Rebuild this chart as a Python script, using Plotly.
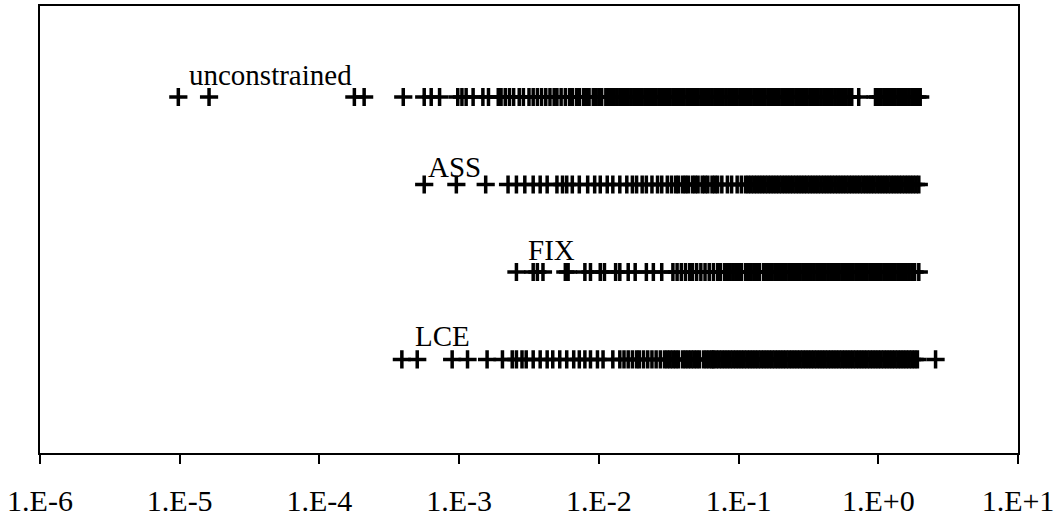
import plotly.graph_objects as go

# Values, stored as log10 of the x value
unconstrained_log = [
    -5.01, -4.79, -3.75, -3.68, -3.40, -3.25, -3.20, -3.14,
    -3.01, -2.98, -2.95, -2.90, -2.83, -2.79, -2.72, -2.70, -2.67, -2.64,
    -2.61, -2.57, -2.54, -2.50, -2.47, -2.44, -2.41, -2.38, -2.35, -2.32,
    -2.30, -2.27, -2.24, -2.21, -2.19, -2.16, -2.14, -2.11, -2.09, -2.07,
    -2.04, -2.02, -2.00, -1.98, -1.95, -1.93, -1.91, -1.89, -1.87, -1.85,
    -1.83, -1.81, -1.79, -1.77, -1.75, -1.73, -1.71, -1.69, -1.67, -1.65,
    -1.63, -1.61, -1.59, -1.57, -1.55, -1.53, -1.51, -1.49, -1.47, -1.45,
    -1.43, -1.41, -1.39, -1.37, -1.35, -1.33, -1.31, -1.29, -1.27, -1.25,
    -1.23, -1.21, -1.19, -1.17, -1.15, -1.13, -1.11, -1.09, -1.07, -1.05,
    -1.03, -1.01, -0.99, -0.97, -0.95, -0.93, -0.91, -0.89, -0.87, -0.85,
    -0.83, -0.81, -0.79, -0.77, -0.75, -0.73, -0.71, -0.69, -0.67, -0.65,
    -0.63, -0.61, -0.59, -0.57, -0.55, -0.53, -0.51, -0.49, -0.47, -0.45,
    -0.43, -0.41, -0.39, -0.37, -0.35, -0.33, -0.31, -0.29, -0.27, -0.25,
    -0.23, -0.21, -0.19, -0.14,
    -0.02, 0.00, 0.02, 0.04, 0.06, 0.08, 0.10, 0.12, 0.14, 0.16,
    0.18, 0.20, 0.22, 0.24, 0.26, 0.28, 0.30,
]

ass_log = [
    -3.25, -3.02, -2.81, -2.65, -2.59, -2.53, -2.47, -2.42, -2.37, -2.30,
    -2.26, -2.23, -2.19, -2.14, -2.08, -2.03, -1.99, -1.94, -1.90, -1.85,
    -1.80, -1.76, -1.73, -1.69, -1.66, -1.62, -1.58, -1.55, -1.51, -1.48,
    -1.45, -1.43, -1.40, -1.38, -1.36, -1.33, -1.31, -1.29, -1.26, -1.24,
    -1.22, -1.19, -1.17, -1.15, -1.12, -1.08, -1.05, -1.01, -0.98,
    -0.95, -0.93, -0.91, -0.89, -0.87, -0.85, -0.83, -0.81, -0.79, -0.77,
    -0.75, -0.73, -0.71, -0.69, -0.67, -0.65, -0.63, -0.61, -0.59, -0.57,
    -0.55, -0.53, -0.51, -0.49, -0.47, -0.45, -0.43, -0.41, -0.39, -0.37,
    -0.35, -0.33, -0.31, -0.29, -0.27, -0.25, -0.23, -0.21, -0.19, -0.17,
    -0.15, -0.13, -0.11, -0.09, -0.07, -0.05, -0.03, -0.01, 0.01, 0.03,
    0.05, 0.07, 0.09, 0.11, 0.13, 0.15, 0.17, 0.19, 0.21, 0.23,
    0.25, 0.27, 0.29,
]

fix_log = [
    -2.59, -2.47, -2.44, -2.40, -2.24, -2.22, -2.10, -2.06, -1.99, -1.96,
    -1.88, -1.85, -1.79, -1.74, -1.66, -1.61, -1.55,
    -1.47, -1.44, -1.41, -1.38, -1.35, -1.33, -1.30, -1.27, -1.24, -1.21,
    -1.18, -1.15, -1.13, -1.10, -1.08, -1.06, -1.04, -1.02, -1.00, -0.98,
    -0.95, -0.93, -0.91, -0.89, -0.87, -0.85, -0.82, -0.80, -0.78, -0.76,
    -0.74, -0.72,
    -0.70, -0.68, -0.66, -0.64, -0.62, -0.60, -0.58, -0.56, -0.54, -0.52,
    -0.50, -0.48, -0.46, -0.44, -0.42, -0.40, -0.38, -0.36, -0.34, -0.32,
    -0.30, -0.28, -0.26, -0.24, -0.22, -0.20, -0.18, -0.16, -0.14, -0.12,
    -0.10, -0.08, -0.06, -0.04, -0.02, 0.00, 0.02, 0.04, 0.06, 0.08,
    0.10, 0.12, 0.14, 0.16, 0.18, 0.20, 0.22, 0.24, 0.26, 0.29,
]

lce_log = [
    -3.41, -3.30, -3.05, -2.94, -2.80, -2.69, -2.62, -2.59, -2.55, -2.52,
    -2.47, -2.42, -2.37, -2.33, -2.28, -2.23, -2.18, -2.14, -2.10, -2.06,
    -2.01, -1.97, -1.90,
    -1.85, -1.82, -1.79, -1.76, -1.73, -1.71, -1.68, -1.65, -1.62, -1.59,
    -1.56, -1.53,
    -1.51, -1.49, -1.47, -1.45, -1.43, -1.40, -1.38, -1.36, -1.34, -1.32,
    -1.30, -1.28, -1.25, -1.23, -1.21, -1.19,
    -1.18, -1.16, -1.14, -1.12, -1.10, -1.08, -1.06, -1.04, -1.02, -1.00,
    -0.98, -0.96, -0.94, -0.92, -0.90, -0.88, -0.86, -0.84, -0.82, -0.80,
    -0.78, -0.76, -0.74, -0.72, -0.70, -0.68, -0.66, -0.64, -0.62, -0.60,
    -0.58, -0.56, -0.54, -0.52, -0.50, -0.48, -0.46, -0.44, -0.42, -0.40,
    -0.38, -0.36, -0.34, -0.32, -0.30, -0.28, -0.26, -0.24, -0.22, -0.20,
    -0.18, -0.16, -0.14, -0.12, -0.10, -0.08, -0.06, -0.04, -0.02, 0.00,
    0.02, 0.04, 0.06, 0.08, 0.10, 0.12, 0.14, 0.16, 0.18, 0.20,
    0.22, 0.24, 0.26, 0.28, 0.41,
]

series_names = ["unconstrained", "ASS", "FIX", "LCE"]
series_rows = [4, 3, 2, 1]
series_logs = [unconstrained_log, ass_log, fix_log, lce_log]

tick_values = [1e-6, 1e-5, 1e-4, 1e-3, 1e-2, 1e-1, 1e0, 1e1]
tick_labels = ["1.E-6", "1.E-5", "1.E-4", "1.E-3", "1.E-2", "1.E-1", "1.E+0", "1.E+1"]

# label positions (layout only): log10 x centre and y
label_pos = [(-4.35, 4.25), (-3.03, 3.20), (-2.34, 2.25), (-3.12, 1.27)]

FONT = "Liberation Serif, Times New Roman, serif"

fig = go.Figure()
for name, row, logs in zip(series_names, series_rows, series_logs):
    xs = [10 ** v for v in logs]
    fig.add_trace(go.Scatter(
        x=xs, y=[row] * len(xs), mode="markers", name=name,
        marker=dict(symbol="cross-thin", size=13,
                    line=dict(color="black", width=3.5), color="black"),
        showlegend=False, hoverinfo="x",
    ))

for name, (lx, ly) in zip(series_names, label_pos):
    fig.add_annotation(x=lx, y=ly, xref="x", yref="y", text=name,
                       showarrow=False, xanchor="center", yanchor="middle",
                       font=dict(family=FONT, size=29, color="black"))

fig.update_layout(
    width=1064, height=518,
    margin=dict(l=40, r=46, t=6, b=65, autoexpand=False),
    paper_bgcolor="white", plot_bgcolor="white",
    font=dict(family=FONT, size=30, color="black"),
)
fig.update_xaxes(
    type="log", range=[-6, 1], automargin=False,
    tickvals=tick_values, ticktext=tick_labels,
    ticks="outside", ticklen=9, tickwidth=1.5, tickcolor="black",
    showline=True, linecolor="black", linewidth=1.5, mirror=True,
    showgrid=False, zeroline=False,
    tickfont=dict(family=FONT, size=30, color="black"),
    ticklabelstandoff=11,
)
fig.update_yaxes(
    range=[-0.069, 5.04], automargin=False,
    showline=True, linecolor="black", linewidth=1.5, mirror=True,
    showgrid=False, zeroline=False, showticklabels=False, ticks="",
)

fig.write_html(
    "out.html",
    config={"displayModeBar": False},
    post_script="document.body.style.margin='0';document.body.style.overflow='hidden';",
)
